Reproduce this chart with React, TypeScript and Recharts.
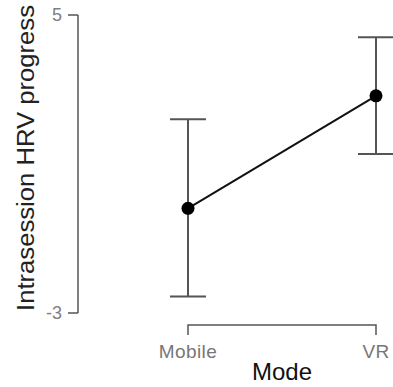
import { ErrorBar, Line, LineChart, ReferenceLine, XAxis, YAxis } from "recharts";

const modes = ["Mobile", "VR"];
const means = [-0.19, 2.83];
const lower = [-2.56, 1.27];
const upper = [2.2, 4.4];
const yTicks = [-3, 5];

const data = modes.map((mode, i) => ({
  mode,
  mean: means[i],
  err: [means[i] - lower[i], upper[i] - means[i]],
}));

const FONT = "'Liberation Sans', Arial, sans-serif";

function ModeTick({ x, y, payload }: any) {
  return (
    <text
      x={x}
      y={y + 45}
      textAnchor="middle"
      fill="#777"
      fontSize={19}
      letterSpacing={0.4}
      fontFamily={FONT}
    >
      {payload.value}
    </text>
  );
}

// bracket under the categories, R-style axis offset from the plot
function Bracket({ x1, y1, x2 }: any) {
  return (
    <g>
      <path
        d={`M${x1},${y1 + 22} V${y1 + 12} H${x2} V${y1 + 22}`}
        fill="none"
        stroke="#555"
        strokeWidth={1.5}
      />
      <text x={(x1 + x2) / 2} y={y1 + 67} textAnchor="middle" fill="#111" fontSize={24} fontFamily={FONT}>
        Mode
      </text>
    </g>
  );
}

function YTitle({ viewBox }: any) {
  const cy = viewBox.y + viewBox.height / 2 - 6;
  return (
    <text
      x={34}
      y={cy}
      transform={`rotate(-90, 34, ${cy})`}
      textAnchor="middle"
      fill="#222"
      fontSize={23}
      fontFamily={FONT}
      textLength={306}
      lengthAdjust="spacingAndGlyphs"
    >
      Intrasession HRV progress
    </text>
  );
}

export default function App() {
  return (
    <div style={{ position: "fixed", left: 0, top: 0, background: "#fff", fontFamily: FONT }}>
      <LineChart width={393} height={387} data={data} margin={{ top: 15, right: 17, bottom: 0, left: 0 }}>
        <XAxis
          dataKey="mode"
          height={74}
          padding={{ left: 110, right: 0 }}
          axisLine={false}
          tickLine={false}
          tickSize={0}
          tickMargin={0}
          tick={<ModeTick />}
          interval={0}
        />
        <YAxis
          width={78}
          domain={[-3, 5]}
          ticks={yTicks}
          tickSize={10}
          tickMargin={6}
          axisLine={{ stroke: "#555", strokeWidth: 1.5 }}
          tickLine={{ stroke: "#555", strokeWidth: 1.5 }}
          tick={{ fill: "#808080", fontSize: 18, fontFamily: FONT }}
          label={{ content: YTitle }}
        />
        <ReferenceLine
          segment={[
            { x: modes[0], y: yTicks[0] },
            { x: modes[modes.length - 1], y: yTicks[0] },
          ]}
          ifOverflow="visible"
          shape={Bracket}
        />
        <Line
          dataKey="mean"
          stroke="#111"
          strokeWidth={2}
          dot={{ r: 6.5, fill: "#000", stroke: "#000", strokeWidth: 0 }}
          isAnimationActive={false}
        >
          <ErrorBar dataKey="err" direction="y" width={18} stroke="#555" strokeWidth={2} />
        </Line>
      </LineChart>
    </div>
  );
}
